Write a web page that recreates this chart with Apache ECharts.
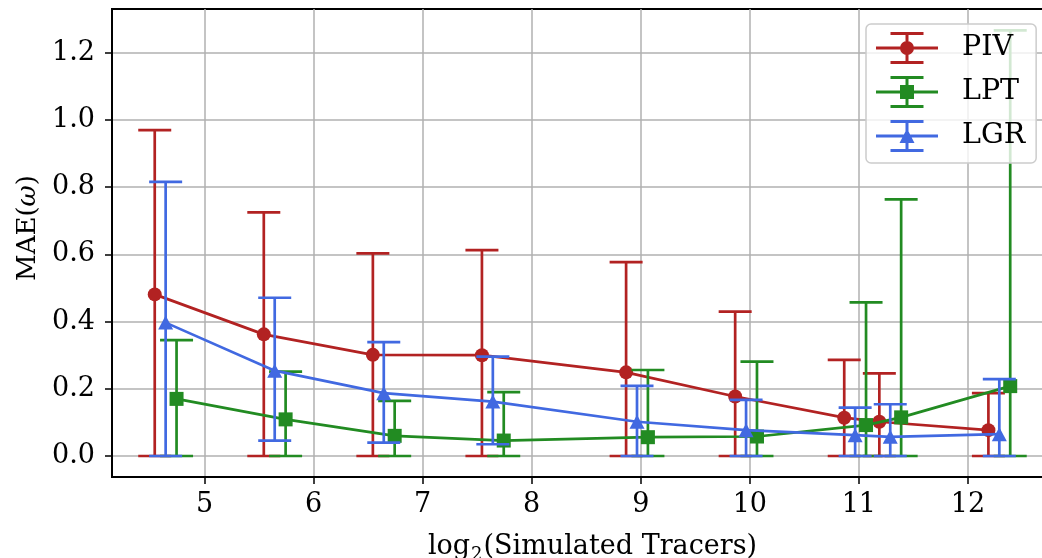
<!DOCTYPE html>
<html>
<head>
<meta charset="utf-8">
<script src="https://cdn.jsdelivr.net/npm/echarts@6/dist/echarts.min.js"></script>
<style>
  html, body { margin: 0; padding: 0; background: #ffffff; }
  #chart { width: 1042px; height: 558px; }
</style>
</head>
<body>
<div id="chart"></div>
<script>
// ---- data ----
const tracers = [25, 50, 100, 200, 500, 1000, 2000, 2500, 5000];

const pivMean  = [0.481, 0.362, 0.301, 0.300, 0.249, 0.177, 0.114, 0.102, 0.077];
const pivLower = [0, 0, 0, 0, 0, 0, 0, 0, 0];
const pivUpper = [0.970, 0.725, 0.603, 0.613, 0.577, 0.430, 0.286, 0.246, 0.187];

const lptMean  = [0.170, 0.109, 0.060, 0.046, 0.056, 0.058, 0.092, 0.115, 0.208];
const lptLower = [0, 0, 0, 0, 0, 0, 0, 0, 0];
const lptUpper = [0.345, 0.251, 0.164, 0.190, 0.256, 0.281, 0.457, 0.764, 1.267];

const lgrMean  = [0.397, 0.254, 0.187, 0.162, 0.102, 0.077, 0.062, 0.057, 0.065];
const lgrLower = [0, 0.046, 0.040, 0.035, 0, 0, 0, 0, 0];
const lgrUpper = [0.816, 0.471, 0.339, 0.296, 0.209, 0.167, 0.144, 0.154, 0.229];

const xTicks = [5, 6, 7, 8, 9, 10, 11, 12];
const yTicks = [0.0, 0.2, 0.4, 0.6, 0.8, 1.0, 1.2];

// ---- style ----
const FONT = 'DejaVu Serif';
const C_PIV = '#b22222', C_LPT = '#228b22', C_LGR = '#4169e1';
const CAP = 16.5, LW = 2.7;
const DODGE = { PIV: -0.1, LPT: 0.1, LGR: 0.0 };

const xs = tracers.map(Math.log2);

function errSeries(name, color, dx, lower, upper, z) {
  return {
    type: 'custom',
    name: name + ' err',
    z: z,
    silent: true,
    data: xs.map((x, i) => [x + dx, lower[i], upper[i]]),
    encode: { x: 0, y: [1, 2] },
    renderItem: function (params, api) {
      const x = api.value(0);
      const lo = api.coord([x, api.value(1)]);
      const hi = api.coord([x, api.value(2)]);
      const st = { stroke: color, lineWidth: LW };
      return {
        type: 'group',
        children: [
          { type: 'line', shape: { x1: lo[0], y1: lo[1], x2: hi[0], y2: hi[1] }, style: st },
          { type: 'line', shape: { x1: lo[0] - CAP, y1: lo[1], x2: lo[0] + CAP, y2: lo[1] }, style: st },
          { type: 'line', shape: { x1: hi[0] - CAP, y1: hi[1], x2: hi[0] + CAP, y2: hi[1] }, style: st }
        ]
      };
    }
  };
}

function lineSeries(name, color, dx, mean, symbol, size, z) {
  return {
    type: 'line',
    name: name,
    z: z,
    data: xs.map((x, i) => [x + dx, mean[i]]),
    symbol: symbol,
    symbolSize: size,
    showSymbol: true,
    lineStyle: { color: color, width: LW },
    itemStyle: { color: color, borderWidth: 0 },
    emphasis: { disabled: true }
  };
}

const ICON_BASE = 'M0 14.5H62V17.5H0Z M29.5 0H32.5V32H29.5Z M14.5 0H47.5V3H14.5Z M14.5 29H47.5V32H14.5Z ';
const ICON_PIV = 'path://' + ICON_BASE + 'M24 16A7 7 0 1 1 38 16A7 7 0 1 1 24 16Z';
const ICON_LPT = 'path://' + ICON_BASE + 'M24 9H38V23H24Z';
const ICON_LGR = 'path://' + ICON_BASE + 'M31 8.5L38.5 23L23.5 23Z';

const chart = echarts.init(document.getElementById('chart'), null, { renderer: 'canvas' });

chart.setOption({
  animation: false,
  backgroundColor: '#ffffff',
  grid: {
    left: 112, top: 9, width: 941, height: 468,
    outerBoundsMode: 'none',
    containLabel: false,
    show: true, borderColor: '#000000', borderWidth: 2, backgroundColor: 'transparent'
  },
  xAxis: {
    type: 'value',
    min: 4.152, max: 12.78,
    name: '{a|log}{s|2}{a|(Simulated Tracers)}',
    nameLocation: 'middle',
    nameGap: 53,
    nameTextStyle: {
      padding: [0, 0, 0, 20],
      rich: {
        a: { fontFamily: FONT, fontSize: 27, color: '#000', lineHeight: 34 },
        s: { fontFamily: FONT, fontSize: 18, color: '#000', lineHeight: 18, padding: [16, 1, 0, 1] }
      }
    },
    axisLine: { show: true, onZero: false, lineStyle: { color: '#000', width: 2 } },
    axisTick: { show: true, customValues: xTicks, length: 7, lineStyle: { color: '#000', width: 1.5 } },
    axisLabel: { customValues: xTicks, fontFamily: FONT, fontSize: 27, color: '#000', margin: 14 },
    splitLine: { show: true, lineStyle: { color: '#b0b0b0', width: 1.5 } }
  },
  yAxis: {
    type: 'value',
    min: -0.0625, max: 1.3304,
    name: '{a|MAE(}{i|ω}{a|)}',
    nameLocation: 'middle',
    nameGap: 70,
    nameTextStyle: {
      padding: [0, 0, 0, 30],
      rich: {
        a: { fontFamily: FONT, fontSize: 26, color: '#000' },
        i: { fontFamily: FONT, fontSize: 26, color: '#000', fontStyle: 'italic' }
      }
    },
    axisLine: { show: true, onZero: false, lineStyle: { color: '#000', width: 2 } },
    axisTick: { show: true, customValues: yTicks, length: 7, lineStyle: { color: '#000', width: 1.5 } },
    axisLabel: {
      customValues: yTicks, fontFamily: FONT, fontSize: 27, color: '#000', margin: 17,
      formatter: v => v.toFixed(1)
    },
    splitLine: { show: true, lineStyle: { color: '#b0b0b0', width: 1.5 } }
  },
  legend: {
    show: true,
    z: 20,
    left: 866, top: 24,
    orient: 'vertical',
    itemWidth: 62, itemHeight: 32, itemGap: 12,
    padding: [8, 11, 11, 10],
    backgroundColor: 'rgba(255,255,255,0.8)',
    borderColor: '#cccccc', borderWidth: 1.5, borderRadius: 5,
    selectedMode: false,
    itemStyle: { borderWidth: 0 },
    textStyle: { fontFamily: FONT, fontSize: 28.5, color: '#000', lineHeight: 32, padding: [0, 0, 0, 19] },
    data: [
      { name: 'PIV', icon: ICON_PIV },
      { name: 'LPT', icon: ICON_LPT },
      { name: 'LGR', icon: ICON_LGR }
    ]
  },
  series: [
    errSeries('PIV', C_PIV, DODGE.PIV, pivLower, pivUpper, 2),
    lineSeries('PIV', C_PIV, DODGE.PIV, pivMean, 'circle', 14, 3),
    errSeries('LPT', C_LPT, DODGE.LPT, lptLower, lptUpper, 4),
    lineSeries('LPT', C_LPT, DODGE.LPT, lptMean, 'rect', 14, 5),
    errSeries('LGR', C_LGR, DODGE.LGR, lgrLower, lgrUpper, 6),
    lineSeries('LGR', C_LGR, DODGE.LGR, lgrMean, 'triangle', [15, 14], 7)
  ]
});
</script>
</body>
</html>
